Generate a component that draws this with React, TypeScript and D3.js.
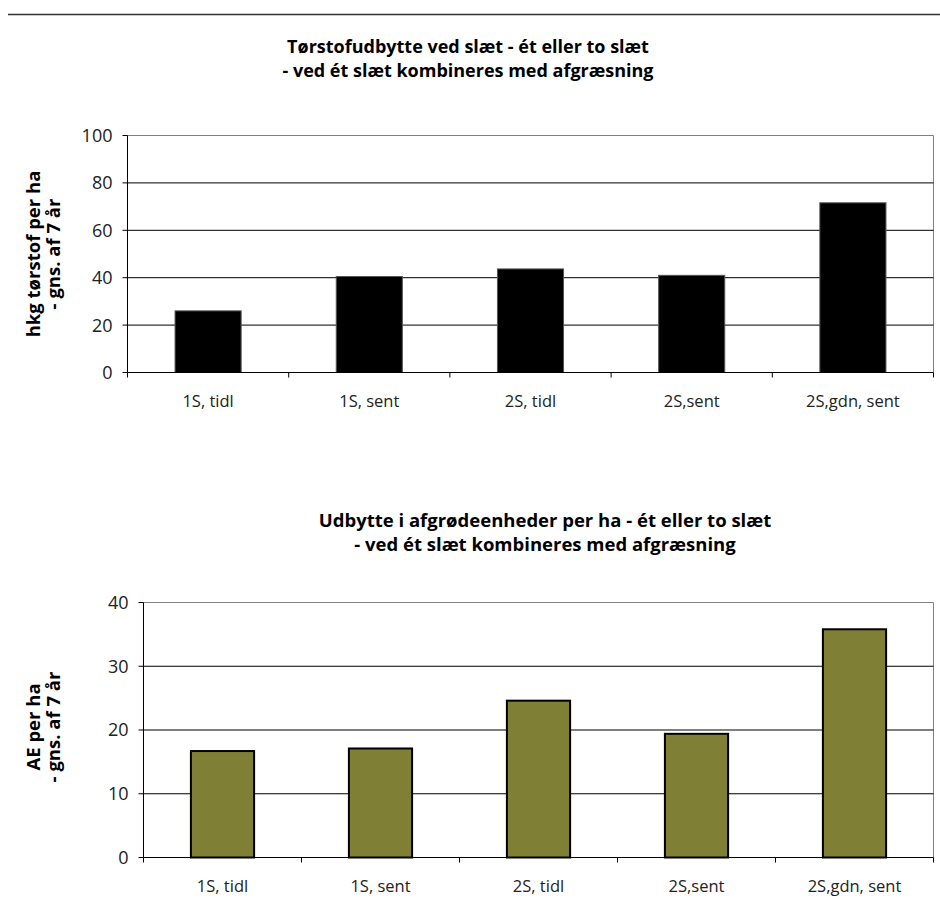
import React from "react";
import * as d3 from "d3";

const categories = ["1S, tidl", "1S, sent", "2S, tidl", "2S,sent", "2S,gdn, sent"];
const dryMatter = [26, 40.5, 43.7, 41, 71.6];
const feedUnits = [16.7, 17.1, 24.6, 19.4, 35.8];
const dmTicks = [0, 20, 40, 60, 80, 100];
const aeTicks = [0, 10, 20, 30, 40];
const title1 = ["Tørstofudbytte ved slæt - ét eller to slæt", "- ved ét slæt kombineres med afgræsning"];
const title2 = ["Udbytte i afgrødeenheder per ha - ét eller to slæt", "- ved ét slæt kombineres med afgræsning"];
const yLabel1 = ["hkg tørstof per ha", "- gns. af 7 år"];
const yLabel2 = ["AE per ha", "- gns. af 7 år"];

const FONT = "'Open Sans', 'Noto Sans', sans-serif";

type ChartProps = {
  values: number[];
  ticks: number[];
  left: number;
  right: number;
  top: number;
  bottom: number;
  fill: string;
  stroke: string;
  strokeWidth: number;
  padding: number;
  title: string[];
  titleX: number;
  titleY: number;
  titleSize: number;
  yLabel: string[];
  yLabelCenter: number;
  xLabelY: number;
};

function BarChart(p: ChartProps) {
  const x = d3.scaleBand<string>().domain(categories).range([p.left, p.right]).paddingInner(p.padding).paddingOuter(p.padding / 2);
  const band = d3.scaleBand<string>().domain(categories).range([p.left, p.right]);
  const y = d3.scaleLinear().domain([p.ticks[0], p.ticks[p.ticks.length - 1]]).range([p.bottom, p.top]);
  return (
    <g>
      {p.title.map((t, i) => (
        <text key={i} x={p.titleX} y={p.titleY + i * 24} textAnchor="middle" fontFamily={FONT} fontWeight="bold" fontSize={p.titleSize} fill="#000">{t}</text>
      ))}
      {p.yLabel.map((t, i) => (
        <text key={i} transform={`translate(${40 + i * 20},${p.yLabelCenter}) rotate(-90)`} textAnchor="middle" fontFamily={FONT} fontWeight="bold" fontSize={18.5} fill="#000">{t}</text>
      ))}
      <line x1={p.left} x2={p.right} y1={p.top} y2={p.top} stroke="#808080" strokeWidth={1} />
      <line x1={p.right} x2={p.right} y1={p.top} y2={p.bottom} stroke="#808080" strokeWidth={1} />
      {p.ticks.slice(1, -1).map((t) => (
        <line key={t} x1={p.left} x2={p.right} y1={y(t)} y2={y(t)} stroke="#000" strokeWidth={1} />
      ))}
      {categories.map((c, i) => (
        <rect key={c} x={x(c)} y={y(p.values[i])} width={x.bandwidth()} height={p.bottom - y(p.values[i])} fill={p.fill} stroke={p.stroke} strokeWidth={p.strokeWidth} />
      ))}
      <line x1={p.left} x2={p.left} y1={p.top} y2={p.bottom} stroke="#000" strokeWidth={1} />
      <line x1={p.left} x2={p.right} y1={p.bottom} y2={p.bottom} stroke="#000" strokeWidth={1} />
      {p.ticks.map((t) => (
        <g key={t}>
          <line x1={p.left - 5} x2={p.left} y1={y(t)} y2={y(t)} stroke="#000" />
          <text x={p.left - 15} y={y(t)} dy="0.36em" textAnchor="end" fontFamily={FONT} fontSize={18} fill="#222">{t}</text>
        </g>
      ))}
      {categories.map((c) => (
        <line key={"t" + c} x1={band(c)} x2={band(c)} y1={p.bottom} y2={p.bottom + 5} stroke="#000" />
      ))}
      <line x1={p.right} x2={p.right} y1={p.bottom} y2={p.bottom + 5} stroke="#000" />
      {categories.map((c) => (
        <text key={"l" + c} x={(band(c) as number) + band.bandwidth() / 2} y={p.xLabelY} textAnchor="middle" fontFamily={FONT} fontSize={16.5} fill="#222">{c}</text>
      ))}
    </g>
  );
}

export default function App() {
  return (
    <svg width={940} height={916} style={{ display: "block", position: "absolute", left: 0, top: 0, background: "#fff" }}>
      <rect width={940} height={916} fill="#fff" />
      <line x1={8} x2={940} y1={14.5} y2={14.5} stroke="#333" strokeWidth={1.5} />
      <BarChart
        values={dryMatter}
        ticks={dmTicks}
        left={127.5}
        right={933.5}
        top={135.5}
        bottom={372.5}
        fill="#000"
        stroke="#555"
        strokeWidth={1}
        padding={0.59}
        title={title1}
        titleX={468}
        titleY={53}
        titleSize={18}
        yLabel={yLabel1}
        yLabelCenter={254}
        xLabelY={407}
      />
      <BarChart
        values={feedUnits}
        ticks={aeTicks}
        left={143.5}
        right={933.5}
        top={602.5}
        bottom={857.5}
        fill="#7f7f36"
        stroke="#000"
        strokeWidth={2}
        padding={0.6}
        title={title2}
        titleX={545}
        titleY={527}
        titleSize={18.5}
        yLabel={yLabel2}
        yLabelCenter={727}
        xLabelY={892}
      />
    </svg>
  );
}
